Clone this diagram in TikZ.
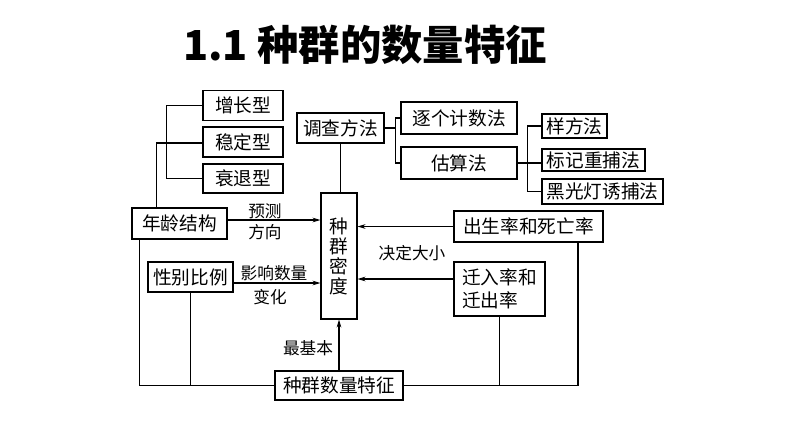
\documentclass[tikz,border=0pt]{standalone}
\usepackage{fontspec}
\setmainfont{Noto Sans CJK SC}
\usetikzlibrary{arrows.meta}
\usetikzlibrary{calc}
\tikzset{
	box/.style 2 args={draw, line width=0.8pt, inner sep=0pt, font=\fontsize{14}{17}\selectfont,
		minimum width=#1*0.75pt, minimum height=#2*0.75pt},
	lbl/.style={inner sep=0pt, font=\fontsize{12.5}{14}\selectfont},
	link/.style={line width=0.8pt},
	arr/.style={line width=0.8pt, -{Stealth[length=6pt, width=3.5pt]}}
}

\begin{document}
\begin{tikzpicture}[x=0.75pt, y=-0.75pt]
\useasboundingbox (0,0) rectangle (794,447);

\node[font=\fontsize{31}{36}\selectfont\bfseries] (title) at (365,45) {1.1 种群的数量特征};

% left side
\node[box={80}{30}] (zz) at (243,105.5) {增长型};
\node[box={80}{30}] (wd) at (243,142) {稳定型};
\node[box={80}{29}] (sh) at (243,178.5) {衰退型};
\node[box={95}{31}] (nl) at (179.5,223.5) {年龄结构};
\node[box={85}{30}] (xb) at (190.5,277) {性别比例};

% centre
\node[box={36}{126}, align=center, font=\fontsize{14}{15}\selectfont] (md) at (339,256) {种\\群\\密\\度};
\node[box={87}{30}] (dc) at (340.5,128) {调查方法};
\node[box={128}{29}] (sl) at (339,385.5) {种群数量特征};

% right side
\node[box={116}{32}] (zg) at (459,118) {逐个计数法};
\node[box={116}{32}] (gs) at (459,163) {估算法};
\node[box={65}{24}] (yf) at (574.5,126) {样方法};
\node[box={103}{22}] (bj) at (593.5,160) {标记重捕法};
\node[box={121}{25}] (hg) at (602.5,191.5) {黑光灯诱捕法};
\node[box={149}{31}] (cs) at (528.5,226.5) {出生率和死亡率};
\node[box={91}{54}, align=left] (qr) at (499.5,289) {迁入率和\\迁出率};

% labels
\node[lbl, anchor=west] (yc) at (248,211) {预测};
\node[lbl, anchor=west] (fx) at (248,232) {方向};
\node[lbl] (yx) at (274,273) {影响数量};
\node[lbl] (bh) at (270,297) {变化};
\node[lbl] (jd) at (412,253) {决定大小};
\node[lbl] (zj) at (308,348) {最基本};

% arrow starts
\coordinate (nlo) at ($(nl.east)+(0,-3.5)$);
\coordinate (xbo) at ($(xb.east)+(0,6)$);
\coordinate (qro) at ($(qr.west)+(0,-10)$);

% brackets
\draw[link] (zz.west) -- ++(-36,0) |- (sh.west);
\draw[link] ($(wd.west)+(0,1)$) -| ($(nl.north west)+(25,0)$);
\draw[link] (dc.east) -- ++(11,0) |- (zg.west);
\draw[link] (dc.east) -- ++(11,0) |- (gs.west);
\draw[link] (gs.east) -- (gs.east -| bj.west);
\draw[link] (yf.west) -- ++(-14,0) |- (hg.west);
\draw[link] (dc.south) -- (dc.south |- md.north);

% bottom
\draw[link] ($(nl.south west)+(8,0)$) |- (sl.west);
\draw[link] (xb.south) -- (xb.south |- sl.west);
\draw[link] ($(cs.south)+(49.5,0)$) |- (sl.east);
\draw[link] (qr.south) -- (qr.south |- sl.east);

% arrows
\draw[arr] (nlo) -- (nlo -| md.west);
\draw[arr] (xbo) -- (xbo -| md.west);
\draw[arr] (cs.west) -- (cs.west -| md.east);
\draw[arr] (qro) -- (qro -| md.east);
\draw[arr] (sl.north) -- (sl.north |- md.south);
\end{tikzpicture}
\end{document}
